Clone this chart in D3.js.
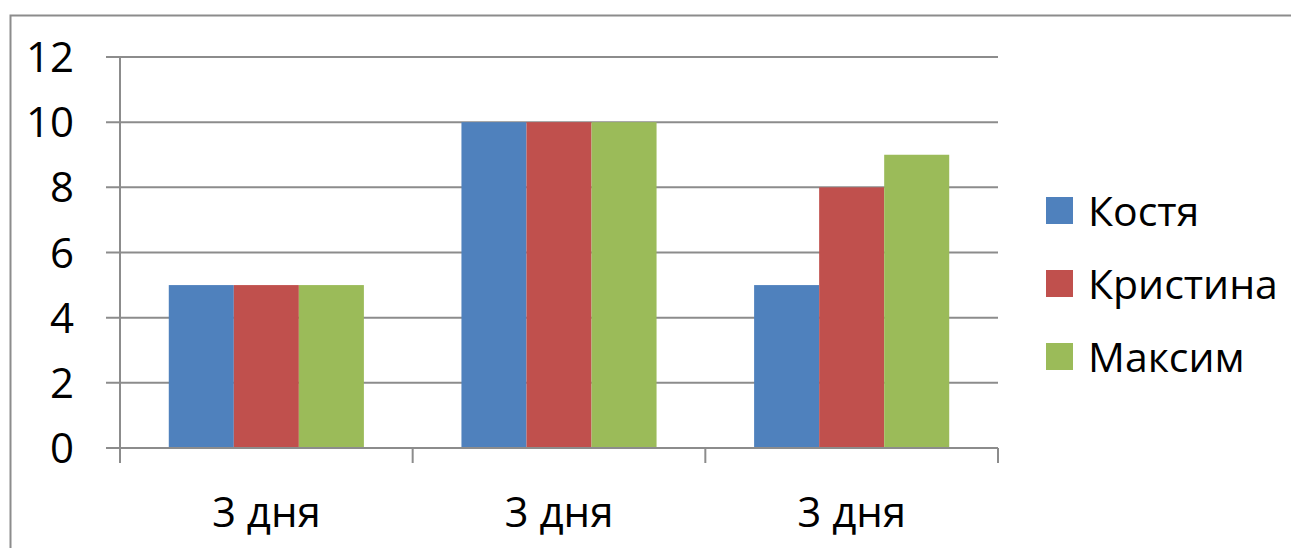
<!DOCTYPE html>
<html>
<head>
<meta charset="utf-8">
<script src="https://cdn.jsdelivr.net/npm/d3@7"></script>
<style>
  html, body { margin: 0; padding: 0; background: #fff; }
  svg { display: block; }
  text { font-family: "Open Sans", "Noto Sans", sans-serif; fill: #000; }
</style>
</head>
<body>
<svg id="chart" width="1291" height="548"></svg>
<script>
// Data
const categories = ["3 дня", "3 дня", "3 дня"];
const seriesNames = ["Костя", "Кристина", "Максим"];
const kostya   = [5, 10, 5];
const kristina = [5, 10, 8];
const maksim   = [5, 10, 9];
const yTicks = [0, 2, 4, 6, 8, 10, 12];
const colors = ["#4F81BD", "#C0504D", "#9BBB59"];

const seriesValues = [kostya, kristina, maksim];

const svg = d3.select("#chart");
const W = 1291, H = 548;
const plot = { left: 120, right: 998, top: 57, bottom: 448 };

// Outer chart frame
svg.append("rect")
  .attr("x", 10.5).attr("y", 15.5)
  .attr("width", W + 10).attr("height", H + 10)
  .attr("fill", "none").attr("stroke", "#8c8c8c").attr("stroke-width", 2);

const y = d3.scaleLinear().domain([0, 12]).range([plot.bottom, plot.top]);
const x0 = d3.scaleBand().domain(d3.range(categories.length))
  .range([plot.left, plot.right]).paddingInner(0).paddingOuter(0);
// Gap width of 150%: gap = 1.5 * bar width
const nS = seriesNames.length;
const barW = x0.bandwidth() / (nS + 1.5);

// Gridlines
svg.append("g").selectAll("line").data(yTicks).join("line")
  .attr("x1", plot.left - 14).attr("x2", plot.right)
  .attr("y1", d => y(d)).attr("y2", d => y(d))
  .attr("stroke", "#8c8c8c").attr("stroke-width", 2);

// Y axis line
svg.append("line")
  .attr("x1", plot.left).attr("x2", plot.left)
  .attr("y1", plot.top).attr("y2", plot.bottom + 15)
  .attr("stroke", "#8c8c8c").attr("stroke-width", 2);

// Category tick marks
const catEdges = d3.range(categories.length + 1).map(i => plot.left + i * x0.step());
svg.append("g").selectAll("line").data(catEdges.slice(1)).join("line")
  .attr("x1", d => d).attr("x2", d => d)
  .attr("y1", plot.bottom).attr("y2", plot.bottom + 15)
  .attr("stroke", "#8c8c8c").attr("stroke-width", 2);

// Bars
const groups = svg.append("g").selectAll("g").data(categories).join("g");
groups.each(function(c, i) {
  const gx = x0(i) + barW * 0.75;
  d3.select(this).selectAll("rect").data(seriesValues.map((s, k) => ({ v: s[i], k })))
    .join("rect")
    .attr("x", d => gx + d.k * barW)
    .attr("y", d => y(d.v))
    .attr("width", barW)
    .attr("height", d => y(0) - y(d.v))
    .attr("fill", d => colors[d.k]);
});

// Zero line drawn over the bars
svg.append("line")
  .attr("x1", plot.left - 14).attr("x2", plot.right)
  .attr("y1", y(0)).attr("y2", y(0))
  .attr("stroke", "#8c8c8c").attr("stroke-width", 2);

// Y tick labels
svg.append("g").selectAll("text").data(yTicks).join("text")
  .attr("x", 74).attr("y", d => y(d))
  .attr("dy", "0.36em")
  .attr("text-anchor", "end")
  .style("font-size", "42px")
  .text(d => d);

// Category labels
svg.append("g").selectAll("text").data(categories).join("text")
  .attr("x", (d, i) => x0(i) + x0.bandwidth() / 2)
  .attr("y", 527)
  .attr("text-anchor", "middle")
  .style("font-size", "42px")
  .text(d => d);

// Legend
const legend = svg.append("g").selectAll("g").data(seriesNames).join("g")
  .attr("transform", (d, i) => `translate(1046, ${197 + i * 73})`);
legend.append("rect")
  .attr("width", 27).attr("height", 27)
  .attr("fill", (d, i) => colors[i]);
legend.append("text")
  .attr("x", 42).attr("y", 13.5).attr("dy", "0.37em")
  .style("font-size", "41px")
  .text(d => d);
</script>
</body>
</html>
